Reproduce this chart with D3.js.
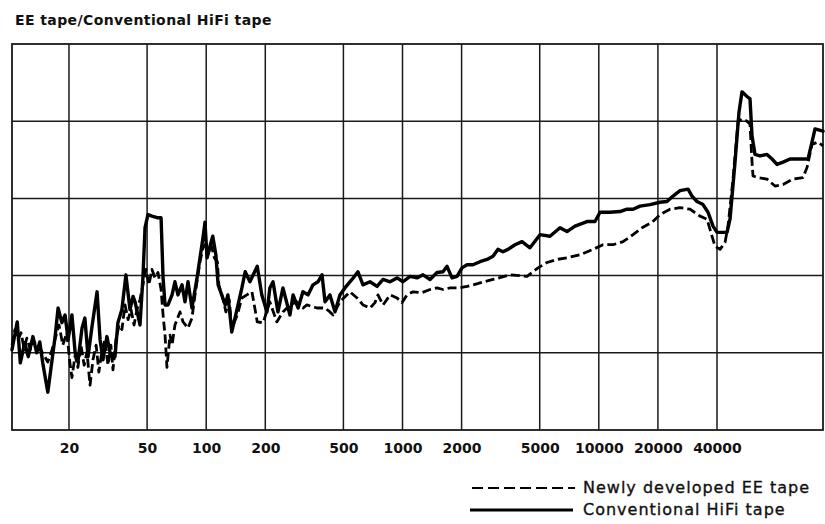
<!DOCTYPE html>
<html>
<head>
<meta charset="utf-8">
<script src="https://cdn.jsdelivr.net/npm/d3@7"></script>
<style>
  html, body { margin: 0; padding: 0; background: #fff; }
  svg { display: block; }
</style>
</head>
<body>
<svg id="chart" width="825" height="524"></svg>
<script>
// ---------- data ----------
const title = "EE tape/Conventional HiFi tape";
const seriesNames = ["Newly developed EE tape", "Conventional HiFi tape"];
const tickFreqs = [20, 50, 100, 200, 500, 1000, 2000, 5000, 10000, 20000, 40000];
const tickLabels = ["20", "50", "100", "200", "500", "1000", "2000", "5000", "10000", "20000", "40000"];
const freqDomain = [10.25, 138700];
const levelDomain = [0, 50];
const levelGrid = [10, 20, 30, 40];

// Conventional HiFi tape (solid)
const hifiFreq = [10.25, 10.9, 11.3, 11.9, 12.4, 13.1, 13.7, 14.2, 14.7, 15.6, 16.4, 17.0, 17.6, 18.4, 19.1, 19.8,
  20.7, 21.5, 22.2, 23.3, 24.1, 25.0, 26.2, 27.8, 28.8, 29.8, 31.2, 32.4, 34.3, 35.5, 37.2, 39.0, 40.9, 42.4,
  43.4, 46.0, 47.6, 48.8, 50.5, 52.9, 56.2, 58.9, 60.3, 61.7, 63.9, 67.0, 69.3, 71.8, 75.3, 78.0, 80.8, 84.6,
  89.8, 93.0, 96.3, 98.6, 101, 105, 108, 112, 115, 120, 125, 129, 135, 144, 152, 158, 167, 182, 192, 204,
  211, 219, 232, 246, 267, 277, 294, 311, 330, 350, 371, 389, 403, 427, 453, 480, 509, 553, 593, 629, 683,
  742, 796, 864, 938, 1006, 1092, 1185, 1272, 1381, 1499, 1608, 1686, 1787, 1895, 2010, 2131, 2286, 2482,
  2694, 2891, 3066, 3251, 3447, 3742, 4063, 4461, 5016, 5641, 6343, 6887, 7565, 8708, 9565, 10142, 11405,
  12823, 13921, 14940, 16218, 18236, 20500, 22260, 23880, 25930, 28480, 29840, 31640, 33950, 36010, 38180,
  40020, 44990, 46600, 49420, 51790, 53640, 56890, 58920, 60320, 62470, 66250, 71930, 76260, 80880, 86780,
  94190, 105900, 116300, 121900, 126300, 138700];
const hifiLevel = [10.4, 14.0, 8.7, 11.3, 9.5, 12.1, 10.0, 11.4, 8.7, 4.9, 9.1, 12.1, 15.8, 13.9, 14.9, 11.7,
  14.9, 10.0, 8.8, 13.2, 14.5, 9.5, 13.4, 17.9, 11.7, 9.1, 12.1, 10.0, 9.5, 13.9, 15.6, 20.1, 15.6, 17.3,
  16.6, 13.6, 19.7, 26.2, 27.9, 27.7, 27.5, 27.5, 19.7, 16.2, 16.2, 17.5, 19.2, 17.5, 18.8, 16.6, 19.2, 15.8,
  19.7, 22.3, 24.9, 26.9, 22.3, 24.0, 25.1, 22.7, 18.8, 17.5, 16.2, 17.5, 12.7, 15.8, 18.4, 20.5, 19.2, 21.2, 17.5, 15.3,
  18.4, 19.2, 15.3, 18.4, 14.9, 17.5, 15.8, 17.9, 17.5, 18.8, 19.2, 20.1, 16.6, 17.5, 15.3, 17.5, 18.4, 19.5, 20.5, 18.8, 19.2,
  18.6, 19.5, 19.2, 19.7, 19.2, 19.9, 19.7, 20.1, 19.5, 20.4, 20.5, 21.2, 19.7, 19.9, 21.0, 21.4, 21.4, 21.8,
  22.1, 22.5, 23.4, 23.1, 23.4, 24.0, 24.4, 23.6, 25.3, 25.1, 26.2, 25.7, 26.4, 27.0, 27.0, 28.2, 28.2,
  28.3, 28.6, 28.6, 29.0, 29.2, 29.5, 29.6, 30.3, 31.0, 31.2, 30.3, 29.6, 29.2, 28.2, 26.4,
  25.6, 25.6, 27.3, 34.7, 41.2, 43.8, 43.2, 42.9, 38.1, 35.7, 35.5, 35.7, 35.1, 34.4, 34.7,
  35.1, 35.1, 35.1, 37.3, 39.0, 38.7];

// Newly developed EE tape (dashed)
const eeFreq = [10.25, 10.6, 11.0, 11.4, 11.8, 12.2, 12.7, 13.1, 13.6, 14.2, 14.9, 15.6, 16.4, 17.2, 17.8, 18.6,
  19.5, 20.2, 20.7, 21.5, 22.2, 23.0, 23.9, 24.7, 25.6, 26.5, 27.5, 28.4, 29.5, 30.5, 31.6, 32.7, 33.5, 34.7,
  36.0, 37.2, 38.6, 40.0, 41.4, 42.9, 44.4, 46.0, 47.6, 49.3, 51.1, 52.9, 54.9, 56.8, 58.9, 60.3, 61.7, 63.1,
  65.4, 67.0, 69.3, 73.5, 76.2, 80.8, 84.6, 87.7, 93.0, 96.3, 98.6, 102, 106, 110, 114, 116, 122, 126, 131,
  135, 144, 152, 161, 171, 182, 195, 211, 229, 246, 267, 290, 311, 326, 367, 403, 427, 443, 480, 540, 587,
  629, 683, 724, 750, 796, 864, 938, 994, 1054, 1131, 1257, 1381, 1499, 1608, 1746, 1917, 2131, 2286, 2891,
  3528, 4308, 4901, 5447, 6125, 6887, 8021, 9344, 10505, 11814, 13283, 14940, 16603, 18664, 20500, 23058,
  25930, 29150, 32780, 35590, 37730, 39090, 41440, 43950, 45520, 48270, 51180, 53640, 56890, 58920, 60320,
  61030, 64710, 71930, 79000, 86780, 97570, 109700, 115000, 121900, 130800, 138700];
const eeLevel = [11.0, 13.0, 11.7, 12.6, 10.6, 11.9, 10.4, 11.7, 11.0, 10.6, 9.7, 8.8, 10.4, 12.3, 13.6, 11.0,
  12.6, 8.8, 6.8, 9.7, 8.1, 11.0, 8.4, 10.1, 5.8, 9.1, 11.0, 7.5, 10.4, 11.7, 8.4, 11.0, 7.8, 11.7,
  13.6, 13.0, 16.2, 14.3, 15.6, 13.6, 15.6, 16.9, 18.8, 20.8, 18.8, 20.8, 19.7, 20.4, 18.2, 14.9, 12.3, 8.1,
  12.3, 11.0, 13.6, 15.3, 14.0, 13.2, 14.5, 17.5, 21.8, 23.6, 24.0, 22.7, 24.0, 22.3, 21.8, 18.8, 16.9, 15.3, 16.9,
  13.2, 14.9, 17.1, 17.5, 17.9, 14.0, 13.9, 16.6, 14.0, 15.3, 16.2, 16.6, 15.8, 16.2, 15.8, 15.8, 15.3, 14.9, 16.6, 17.9, 17.1,
  16.2, 15.8, 16.5, 17.5, 16.2, 17.5, 17.1, 16.5, 17.5, 17.9, 17.8, 18.2, 18.4, 18.2, 18.4, 18.4, 18.6, 18.8, 19.5,
  20.1, 19.9, 21.0, 21.7, 22.1, 22.3, 22.7, 23.4, 24.0, 24.0, 24.4, 25.3, 26.2, 26.9, 27.9, 28.6,
  28.8, 28.6, 27.7, 27.3, 25.1, 23.8, 23.4, 24.3, 26.4, 32.5, 39.9, 40.3, 40.0, 39.6, 34.7,
  32.9, 32.7, 32.5, 31.6, 31.8, 32.5, 32.7, 34.0, 37.0, 37.3, 36.8];

// ---------- chart ----------
const svg = d3.select("#chart");
const W = 825, H = 524;
const plot = { left: 12, right: 823, top: 44, bottom: 430 };

svg.append("rect").attr("width", W).attr("height", H).attr("fill", "#fff");

const x = d3.scaleLog().domain(freqDomain).range([plot.left, plot.right]);
const y = d3.scaleLinear().domain(levelDomain).range([plot.bottom, plot.top]);

const gridColor = "#1a1a1a";

// vertical grid lines at the ticks
svg.append("g").selectAll("line").data(tickFreqs).join("line")
  .attr("x1", d => x(d)).attr("x2", d => x(d))
  .attr("y1", plot.top).attr("y2", plot.bottom)
  .attr("stroke", gridColor).attr("stroke-width", 1.5);

// horizontal grid lines
svg.append("g").selectAll("line").data(levelGrid).join("line")
  .attr("x1", plot.left).attr("x2", plot.right)
  .attr("y1", d => y(d)).attr("y2", d => y(d))
  .attr("stroke", gridColor).attr("stroke-width", 1.5);

// frame
svg.append("rect")
  .attr("x", plot.left).attr("y", plot.top)
  .attr("width", plot.right - plot.left).attr("height", plot.bottom - plot.top)
  .attr("fill", "none").attr("stroke", gridColor).attr("stroke-width", 1.8);

// x axis labels
const xAxis = d3.axisBottom(x).tickValues(tickFreqs)
  .tickFormat((d, i) => tickLabels[i]).tickSize(0).tickPadding(10);
const gx = svg.append("g").attr("transform", `translate(0,${plot.bottom})`).call(xAxis);
gx.select(".domain").remove();
gx.selectAll("text")
  .attr("font-family", "DejaVu Sans, sans-serif")
  .attr("font-size", 14).attr("font-weight", "bold")
  .attr("fill", "#111").attr("dy", "0.95em");

// title
svg.append("text").attr("x", 15).attr("y", 25)
  .attr("font-family", "DejaVu Sans, sans-serif")
  .attr("font-size", 14).attr("font-weight", "bold").attr("fill", "#111")
  .attr("letter-spacing", 0.4)
  .text(title);

// curves
const lineGen = (fs, ls) => d3.line().x((d, i) => x(fs[i])).y((d, i) => y(ls[i])).curve(d3.curveLinear)(fs);

svg.append("path")
  .attr("d", lineGen(eeFreq, eeLevel))
  .attr("fill", "none").attr("stroke", "#000").attr("stroke-width", 2.8)
  .attr("stroke-dasharray", "9,4").attr("stroke-linejoin", "round");

svg.append("path")
  .attr("d", lineGen(hifiFreq, hifiLevel))
  .attr("fill", "none").attr("stroke", "#000").attr("stroke-width", 3.4)
  .attr("stroke-linejoin", "round").attr("stroke-linecap", "round");

// legend
const legend = svg.append("g");
const legY = [488, 510];
legend.append("line").attr("x1", 472).attr("x2", 575).attr("y1", legY[0]).attr("y2", legY[0])
  .attr("stroke", "#000").attr("stroke-width", 2).attr("stroke-dasharray", "11,5");
legend.append("line").attr("x1", 470).attr("x2", 573).attr("y1", legY[1]).attr("y2", legY[1])
  .attr("stroke", "#000").attr("stroke-width", 3);
legend.selectAll("text").data(seriesNames).join("text")
  .attr("x", 583).attr("y", (d, i) => legY[i] + 5)
  .attr("font-family", "DejaVu Sans, sans-serif")
  .attr("font-size", 16).attr("letter-spacing", 1)
  .attr("fill", "#111").attr("stroke", "#111").attr("stroke-width", 0.35)
  .text(d => d);
</script>
</body>
</html>
